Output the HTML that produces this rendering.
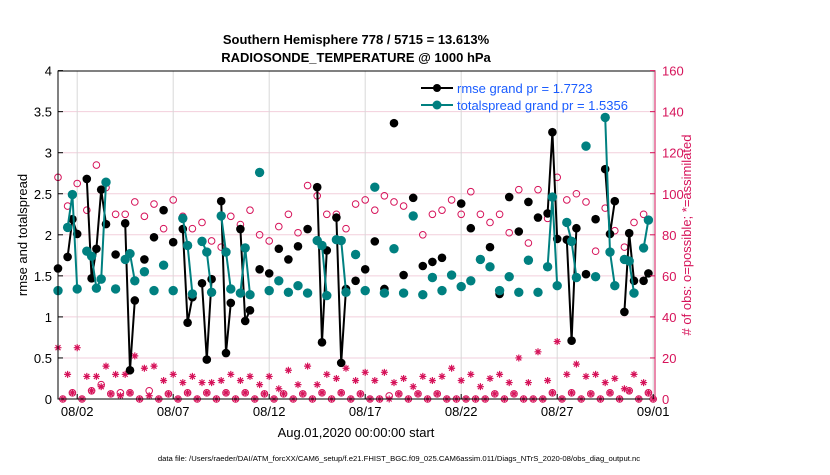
<!DOCTYPE html>
<html><head><meta charset="utf-8"><style>
body{margin:0;background:#fff;width:830px;height:470px;overflow:hidden;font-family:"Liberation Sans",sans-serif}
svg text{font-family:"Liberation Sans",sans-serif}
</style></head><body>
<svg id="chart" width="830" height="470" xmlns="http://www.w3.org/2000/svg">
<text x="356" y="44" text-anchor="middle" font-size="13" font-weight="bold">Southern Hemisphere 778 / 5715 = 13.613%</text>
<text x="356" y="62" text-anchor="middle" font-size="13" font-weight="bold">RADIOSONDE_TEMPERATURE @ 1000 hPa</text>
<g id="grid"></g>
<g id="marks"></g>
<rect x="58" y="71" width="597" height="328" fill="none" stroke="#000" stroke-width="1"/>
<g id="axes"></g>
<text transform="translate(27,235) rotate(-90)" text-anchor="middle" font-size="13">rmse and totalspread</text>
<text transform="translate(691,235) rotate(-90)" text-anchor="middle" font-size="13" fill="#d6135a"># of obs: o=possible; *=assimilated</text>
<text x="356" y="437" text-anchor="middle" font-size="13">Aug.01,2020 00:00:00 start</text>
<text x="399" y="461" text-anchor="middle" font-size="7.7">data file: /Users/raeder/DAI/ATM_forcXX/CAM6_setup/f.e21.FHIST_BGC.f09_025.CAM6assim.011/Diags_NTrS_2020-08/obs_diag_output.nc</text>
<g>
<line x1="421" y1="88" x2="453" y2="88" stroke="#000" stroke-width="2"/><circle cx="437" cy="88" r="4" fill="#000"/>
<text x="457" y="93" font-size="13" fill="#1a5cff">rmse grand pr = 1.7723</text>
<line x1="421" y1="105" x2="453" y2="105" stroke="#008080" stroke-width="2"/><circle cx="437" cy="105" r="4.5" fill="#008080"/>
<text x="457" y="110" font-size="13" fill="#1a5cff">totalspread grand pr = 1.5356</text>
</g>
</svg>
<script>
const N=null;
const rmse=[1.59,N,1.73,2.19,2.01,N,2.68,1.47,1.83,2.55,2.13,N,1.76,N,2.14,0.35,1.20,N,1.70,N,1.97,N,2.30,N,1.91,N,2.07,0.93,1.24,N,1.41,0.48,1.46,N,2.41,0.56,1.17,N,2.07,0.95,1.08,N,1.58,N,1.53,N,1.83,N,1.70,N,1.86,N,2.07,N,2.58,0.69,1.81,N,2.21,0.44,1.34,N,1.44,N,1.58,N,1.92,N,1.34,N,3.36,N,1.51,N,2.45,N,1.62,N,1.67,N,1.72,N,1.51,N,2.38,N,2.08,N,1.70,N,1.85,N,1.28,N,2.46,N,2.04,N,2.40,N,2.21,N,2.26,3.25,1.95,N,1.94,0.71,2.08,N,1.52,N,2.19,N,2.80,2.01,2.41,N,1.06,2.02,1.44,N,1.44,1.53,N];
const spread=[1.32,N,2.09,2.49,1.34,N,1.80,1.74,1.35,1.46,2.64,N,1.34,N,1.70,1.77,1.44,N,1.55,N,1.32,N,1.63,N,1.32,N,2.20,1.87,1.28,N,1.92,1.79,1.30,N,2.23,1.79,1.34,N,1.29,1.84,1.27,N,2.76,N,1.32,N,1.44,N,1.30,N,1.38,N,1.29,N,1.93,1.87,1.26,N,1.94,1.93,1.30,N,1.76,N,1.32,N,2.58,N,1.29,N,1.83,N,1.29,N,2.23,N,1.27,N,1.48,N,1.32,N,1.51,N,1.37,N,1.44,N,1.70,N,1.61,N,1.32,N,1.49,N,1.30,N,1.69,N,1.30,N,1.61,2.46,1.38,N,2.15,1.92,1.48,N,3.08,N,1.49,N,3.43,1.79,1.38,N,1.70,1.68,1.29,N,1.84,2.18,N];
const possible=[108,0,94,3,105,0,92,4,114,7,103,2.5,90,3,90,3,96,0,89,4,95,0,83,2.5,97,0,89,3,83,0,86,3,77,0,74,3,89,0,85,3,92,0,80,2.5,77,0,84,2.5,90,0,81,2.5,104,0,99,3,90,0,90,3,83,0,95,2.5,97,0,92,0,99,1.5,96,2.5,94,0,89,2.5,80,0,90,2.5,92,0,97,0,90,0,101,0,90,0,86,2.5,90,0,81,2.5,102,0,76,0,102,0,88,3,108,0,97,3,100,0,96,2.5,72,0,93,3,82,0,74,4,86,0,90,3,0];
const assimilated=[25,0,12,3,25,0,11,4,11,6,16,2.5,12,1.6,12,3,21,0,15,1.6,16,0,9,2.5,12,0,8,3,11,0,8,3,8,0,9,3,12,0,9,3,11,0,7,2.5,11,0,5,2.5,14,0,7,2.5,16,0,7,3,12,0,10,3,15,0,9,2.5,13,0,9,0,13,0,8,2.5,10,0,6,2.5,11,0,9,2.5,11,0,15,0,9,0,12,0,6,0,10,2.5,12,0,8,2.5,20,0,8,0,23,0,9,3,28,0,12,3,17,0,11,2.5,12,0,8,3,10,0,5,4,12,0,8,3,0];
const leftTicks=["0","0.5","1","1.5","2","2.5","3","3.5","4"];
const rightTicks=["0","20","40","60","80","100","120","140","160"];
const dateTicks=["08/02","08/07","08/12","08/17","08/22","08/27","09/01"];
const dateTickDays=[1,6,11,16,21,26,31];

const X0=58,PXDAY=19.2,YB=399,PXU=82.1;
const xs=t=>X0+t*PXDAY/4;
const xd=d=>X0+d*PXDAY;
const yl=v=>YB-v*PXU;
const yr=c=>YB-c*PXU/40;
const NS='http://www.w3.org/2000/svg';
function mk(tag,attrs,parent){const e=document.createElementNS(NS,tag);for(const k in attrs)e.setAttribute(k,attrs[k]);parent.appendChild(e);return e;}
const grid=document.getElementById('grid'),marks=document.getElementById('marks'),axes=document.getElementById('axes');

leftTicks.forEach((lab,i)=>{
  const v=parseFloat(lab),y=yl(v);
  if(i>0&&i<leftTicks.length-1){const g=mk('line',{x1:58,x2:655,y1:y,y2:y,stroke:'#f2cfdc','stroke-width':1},grid);
  
  }
  mk('line',{x1:58,x2:63,y1:y,y2:y,stroke:'#000'},axes);
  const t=mk('text',{x:52,y:y+5,'text-anchor':'end','font-size':13},axes);t.textContent=lab;
  
  
});
rightTicks.forEach(lab=>{
  const y=yr(parseFloat(lab));
  mk('line',{x1:650,x2:655,y1:y,y2:y,stroke:'#d6135a'},axes);
  const t=mk('text',{x:662,y:y+5,'font-size':13,fill:'#d6135a'},axes);t.textContent=lab;
  
  
});
mk('line',{x1:655,x2:655,y1:71,y2:399,stroke:'#d6135a'},axes);
dateTicks.forEach((lab,i)=>{
  const x=xd(dateTickDays[i]);
  if(x<654){const g=mk('line',{x1:x,x2:x,y1:71,y2:399,stroke:'#d8d8d8'},grid);
  
  }
  mk('line',{x1:x,x2:x,y1:394,y2:399,stroke:'#000'},axes);
  const t=mk('text',{x:x,y:416,'text-anchor':'middle','font-size':13},axes);t.textContent=lab;
  
  
});

function series(vals,color,r,name){
  let seg=[];
  const flush=()=>{if(seg.length>1){const p=mk('polyline',{points:seg.join(' '),fill:'none',stroke:color,'stroke-width':2},marks);
    
    }seg=[];};
  vals.forEach((v,t)=>{if(v===null){flush();return;}seg.push(xs(t)+','+yl(v));});
  flush();
  vals.forEach((v,t)=>{if(v===null)return;const c=mk('circle',{cx:xs(t),cy:yl(v),r:r,fill:color},marks);
    
    });
}
possible.forEach((c,t)=>{const e=mk('circle',{cx:xs(t),cy:yr(c),r:3.3,fill:'none',stroke:'#d6135a','stroke-width':1},marks);
  
  });
assimilated.forEach((c,t)=>{const x=xs(t),y=yr(c),s=3.5;
  const d=`M${x-s},${y}H${x+s}M${x},${y-s}V${y+s}M${x-2.5},${y-2.5}L${x+2.5},${y+2.5}M${x-2.5},${y+2.5}L${x+2.5},${y-2.5}`;
  const e=mk('path',{d:d,stroke:'#d6135a','stroke-width':1.2,fill:'none'},marks);
  
  });
series(rmse,'#000',4.3,'rmse');
series(spread,'#008080',4.7,'totalspread');
</script>
</body></html>
